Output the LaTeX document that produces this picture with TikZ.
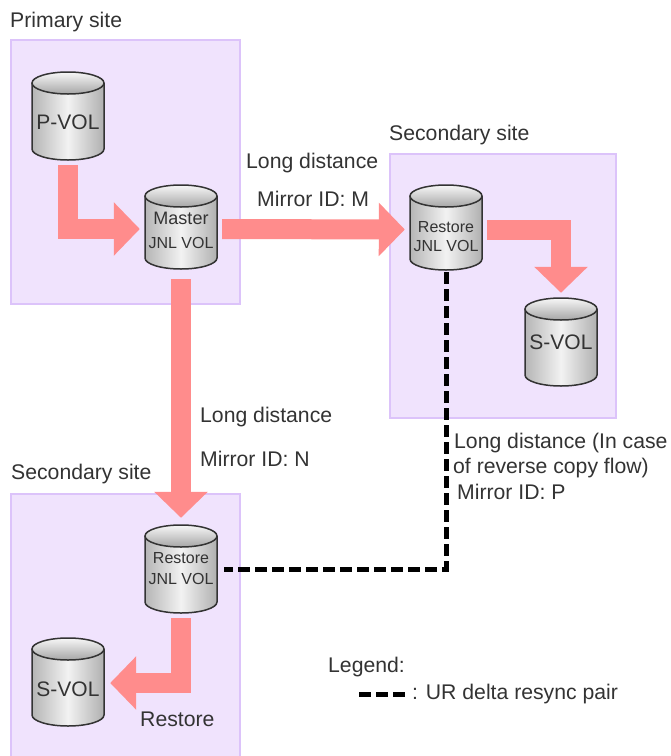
\documentclass[tikz,border=0pt]{standalone}
\usepackage{fontspec}
\setmainfont{Liberation Sans}
\usetikzlibrary{arrows.meta,calc}
\definecolor{sitefill}{HTML}{F0E3FD}
\definecolor{siteline}{HTML}{DCC3FA}
\definecolor{flow}{HTML}{FF8C8C}
\definecolor{ink}{HTML}{333333}
\tikzset{
  site/.style={draw=siteline,fill=sitefill,line width=1.2pt},
  lab/.style={anchor=west,inner sep=0,text=ink,font=\fontsize{21.2}{24}\selectfont},
  big/.style={inner sep=0,text=ink,font=\fontsize{21}{24}\selectfont},
  small/.style={inner sep=0,text=ink,font=\fontsize{16}{24}\selectfont},
  flowline/.style={draw=flow,line width=20pt,-{Triangle[width=52pt,length=26pt]}},
  pair/.style={draw=black,line width=5pt,dash pattern=on 12pt off 5pt},
  drumbox/.style={minimum width=72pt,inner sep=0,draw=none}
}
% name, cx, top y, height
\newcommand\drum[4]{%
  \node[drumbox,minimum height=#4 pt] (#1) at (#2,#3+#4/2) {};
  \shade[left color=gray!58,right color=gray!62,middle color=gray!10]
    (#2-36,#3+11) -- (#2-36,#3+#4-11) arc[start angle=180,end angle=0,x radius=36,y radius=11]
    -- (#2+36,#3+11) arc[start angle=0,end angle=-180,x radius=36,y radius=11] -- cycle;
  \shade[bottom color=gray!70,top color=gray!6]
    (#2,#3+11) ellipse[x radius=36,y radius=11];
  \draw[black!80,line width=1.5pt]
    (#2-36,#3+11) -- (#2-36,#3+#4-11) arc[start angle=180,end angle=0,x radius=36,y radius=11]
    -- (#2+36,#3+11);
  \draw[black!80,line width=1.5pt] (#2,#3+11) ellipse[x radius=36,y radius=11];
}
\begin{document}
\begin{tikzpicture}[x=1pt,y=-1pt]
\useasboundingbox (0,0) rectangle (671,756);
\fill[white] (0,0) rectangle (671,756);
\path[site] (11,40) rectangle (240,304);
\path[site] (390,154) rectangle (616,418);
\path[site] (11,494) rectangle (240,762);

\drum{pvol}{68}{72}{88}
\drum{master}{181}{185}{84}
\drum{restm}{446}{185}{85}
\drum{svolr}{561}{298}{88}
\drum{restn}{181}{525}{88}
\drum{svoll}{68}{638}{88}

\node[big] (pvolt) at (68,122) {P-VOL};
\node[small,font=\fontsize{18}{24}\selectfont] (mastert) at (181,218) {Master};
\node[small] (masterj) at (181,243) {JNL VOL};
\node[small] (restmt) at (446,227) {Restore};
\node[small] (restmj) at (446,246) {JNL VOL};
\node[big] (svolrt) at (561,342) {S-VOL};
\node[small] (restnt) at (181,558) {Restore};
\node[small] (restnj) at (181,579) {JNL VOL};
\node[big] (svollt) at (68,689) {S-VOL};

\draw[flowline] ([yshift=-5pt]pvol.south) |- ([xshift=-5pt,yshift=-2pt]master.west);
\draw[flowline] ([xshift=5pt,yshift=-2pt]master.east) -- ([xshift=-5pt,yshift=-2pt]restm.west);
\draw[flowline] ([yshift=-10pt]master.south) -- ([yshift=7pt]restn.north);
\draw[flowline] ([xshift=5pt,yshift=-2pt]restm.east) -| ([yshift=5pt]svolr.north);
\draw[flowline] ([yshift=-5pt]restn.south) |- ([xshift=6pt,yshift=-1pt]svoll.east);

\draw[pair] ([yshift=-2pt]restm.south) |- ([xshift=7pt]restn.east);

\node[lab] (primary) at (10,22) {Primary site};
\node[lab] (secm) at (389,135) {Secondary site};
\node[lab] (secn) at (11,474) {Secondary site};
\node[lab] (ld1) at (246,163) {Long distance};
\node[lab] (mm) at (257,199) {Mirror ID: M};
\node[lab] (ld2) at (200,417) {Long distance};
\node[lab] (mn) at (200,459) {Mirror ID: N};
\node[lab] (ld3) at (454,443) {Long distance (In case};
\node[lab] (ld4) at (453,468) {of reverse copy flow)};
\node[lab] (mp) at (457,492) {Mirror ID: P};
\node[lab] (legend) at (328,667) {Legend:};
\coordinate (lega) at (359,694);
\coordinate (legb) at (405,694);
\draw[pair] (lega) -- (legb);
\node[lab] (legt) at (412,694) {: UR delta resync pair};
\node[lab] (rest) at (140,719) {Restore};
\end{tikzpicture}
\end{document}
